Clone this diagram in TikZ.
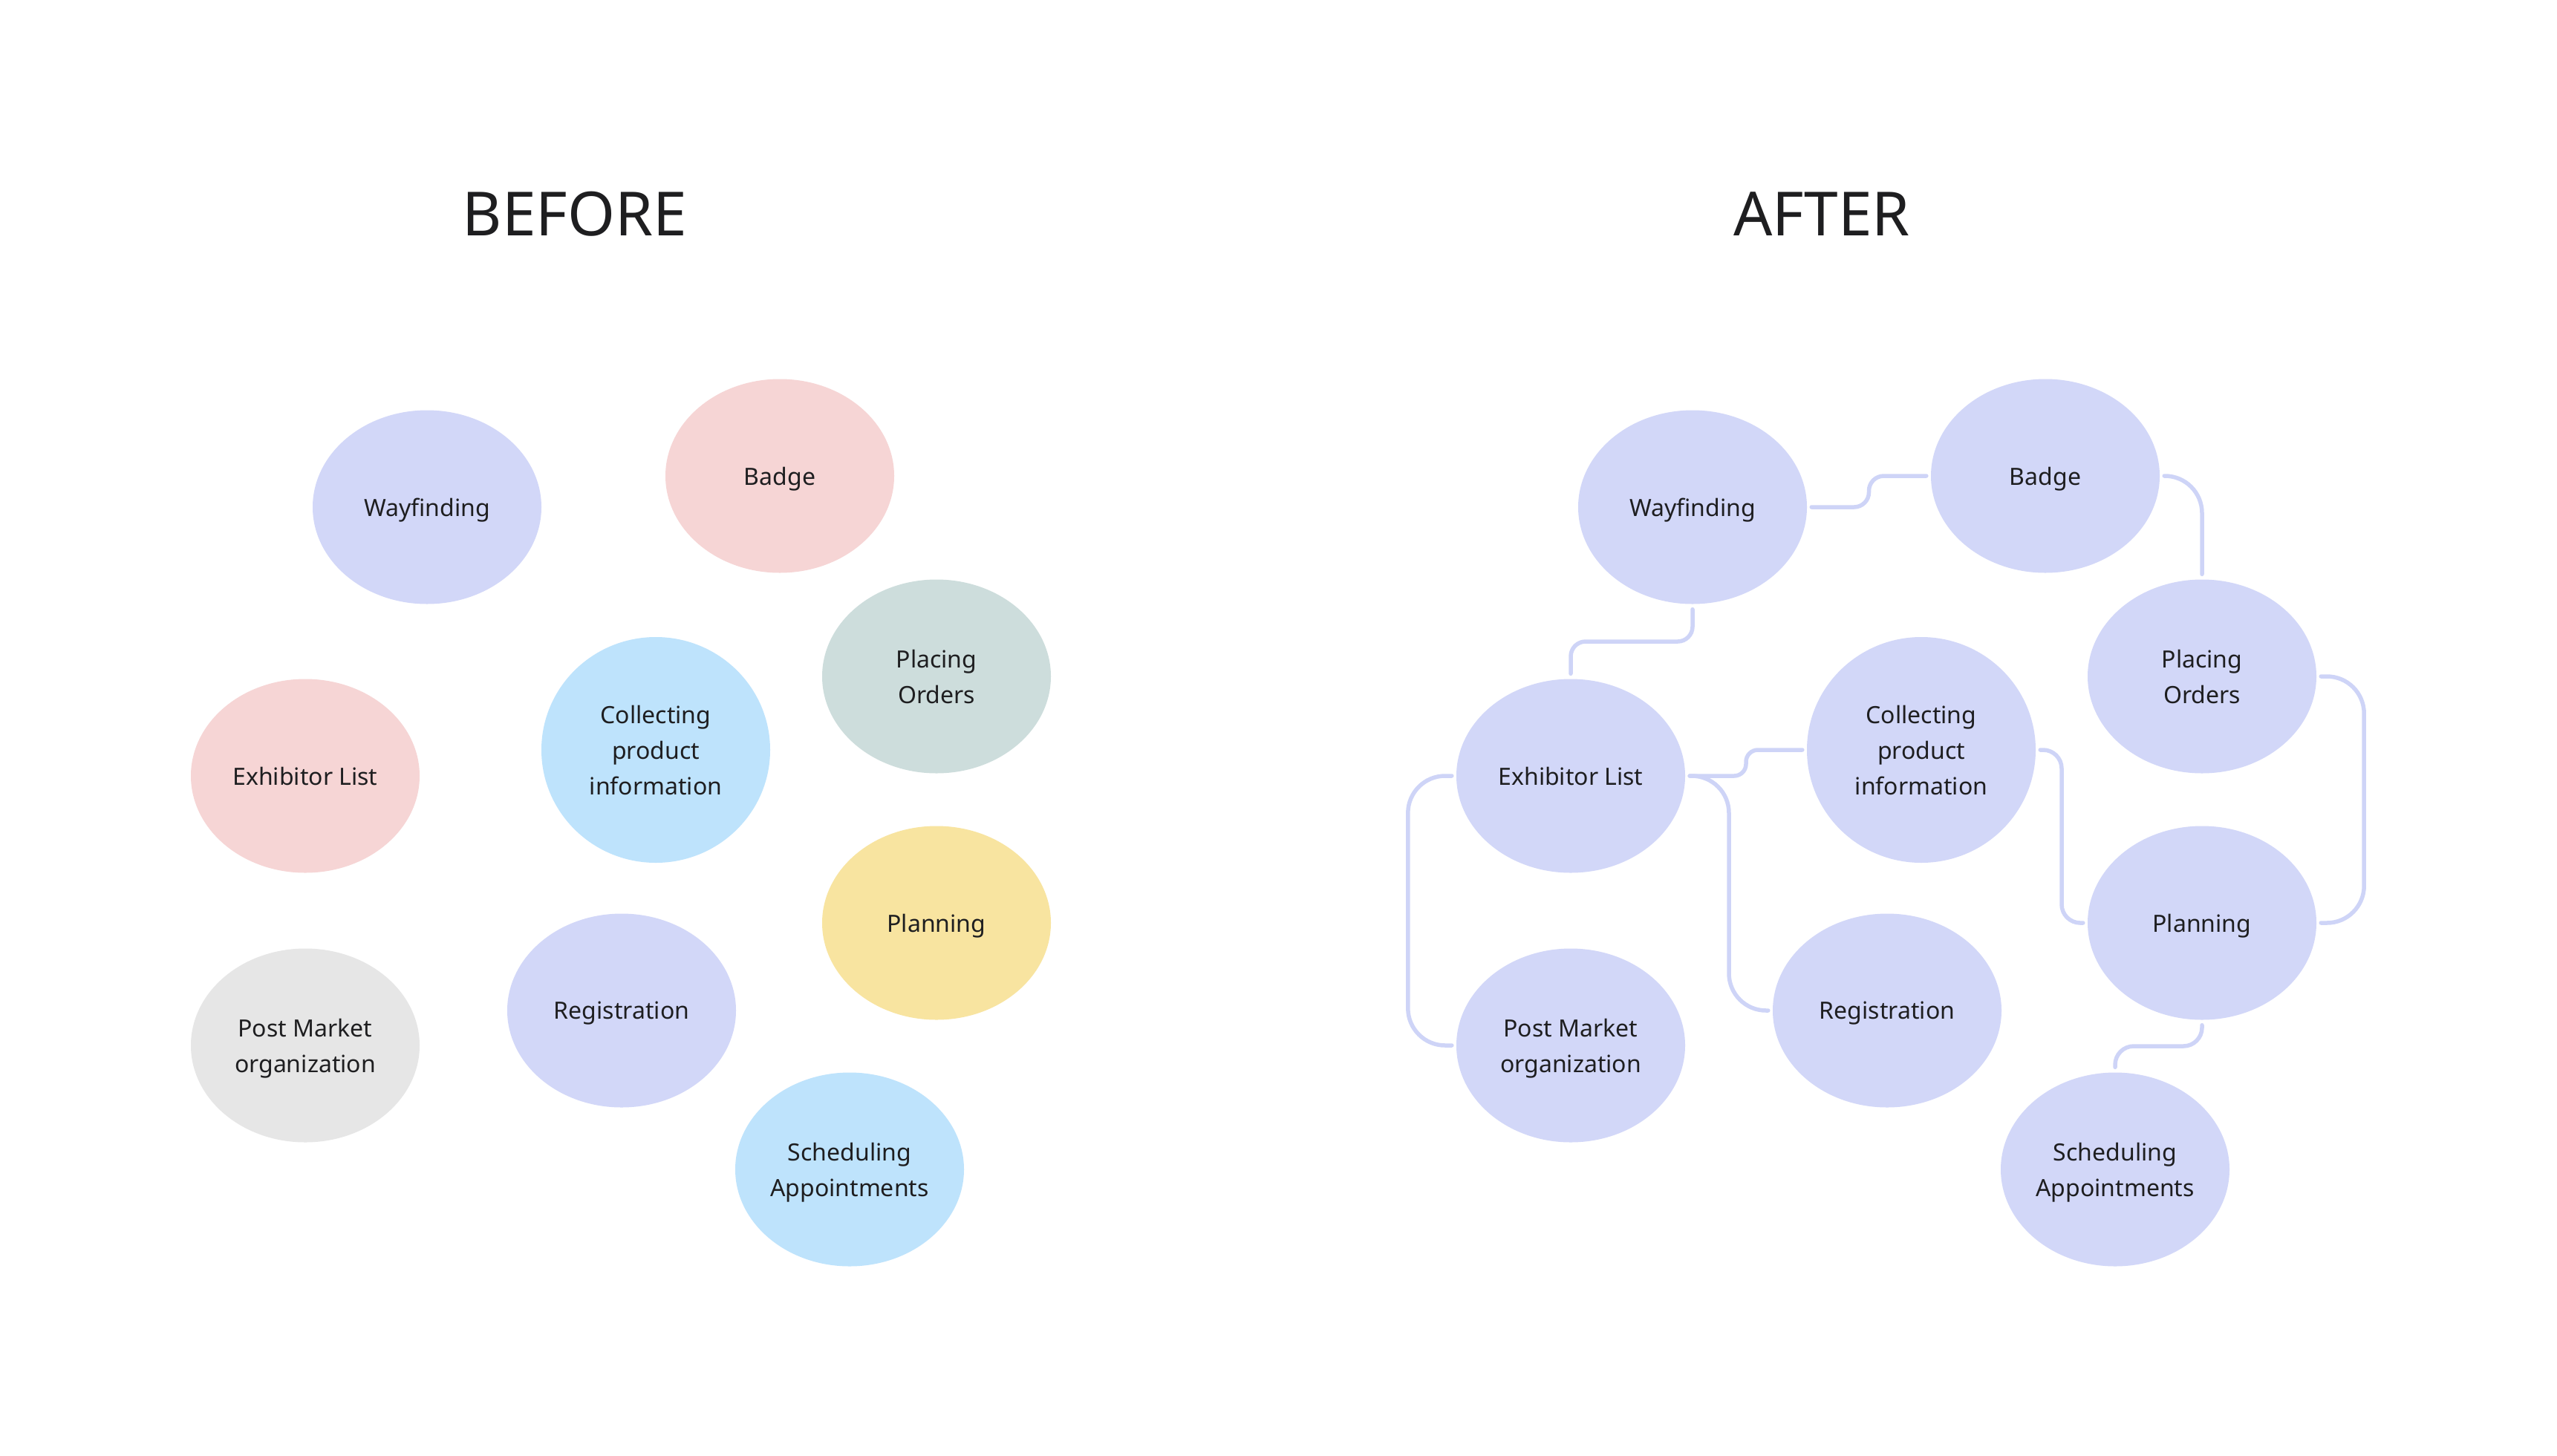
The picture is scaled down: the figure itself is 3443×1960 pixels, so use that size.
\documentclass[tikz,border=0pt]{standalone}
\usepackage{fontspec}
\setmainfont{Noto Sans}
\usetikzlibrary{shapes.geometric,calc}
\definecolor{lav}{RGB}{210,215,248}
\definecolor{pinkc}{RGB}{246,213,213}
\definecolor{bluec}{RGB}{190,227,252}
\definecolor{sagec}{RGB}{205,221,220}
\definecolor{yelc}{RGB}{248,228,160}
\definecolor{greyc}{RGB}{230,230,230}
\definecolor{linec}{RGB}{206,212,247}
\definecolor{txt}{RGB}{30,30,32}
\tikzset{
  bub/.style={ellipse, minimum width=308pt, minimum height=261pt, inner sep=0pt,
    text depth=0pt, align=center, text=txt, font=\fontsize{32}{48}\selectfont, fill=#1},
  bub/.default=lav,
  tall/.style={minimum height=304pt},
  conn/.style={draw=linec, line width=5.5pt, line cap=round},
  ttl/.style={text=txt, font=\fontsize{82}{90}\selectfont, inner sep=0pt}
}
\begin{document}
\begin{tikzpicture}[x=1pt,y=-1pt]
\useasboundingbox[fill=white] (0,0) rectangle (3443,1960);
% titles
\node[ttl] (tb) at (774,288) {BEFORE};
\node[ttl] (ta) at (2453,288) {AFTER};
% BEFORE
\node[bub=lav]   (wfB) at (575,683) {Wayfinding};
\node[bub=pinkc] (bdB) at (1050,641) {Badge};
\node[bub=sagec] (poB) at (1261,911) {Placing\\Orders};
\node[bub=pinkc] (exB) at (411,1045) {Exhibitor List};
\node[bub=bluec, tall] (cpB) at (883,1010) {Collecting\\product\\information};
\node[bub=yelc]  (plB) at (1261,1243) {Planning};
\node[bub=greyc] (pmB) at (411,1408) {Post Market\\organization};
\node[bub=lav]   (rgB) at (837,1361) {Registration};
\node[bub=bluec] (scB) at (1144,1575) {Scheduling\\Appointments};
% AFTER
\node[bub] (wfA) at (2279,683) {Wayfinding};
\node[bub] (bdA) at (2754,641) {Badge};
\node[bub] (poA) at (2965,911) {Placing\\Orders};
\node[bub] (exA) at (2115,1045) {Exhibitor List};
\node[bub, tall] (cpA) at (2587,1010) {Collecting\\product\\information};
\node[bub] (plA) at (2965,1243) {Planning};
\node[bub] (pmA) at (2115,1408) {Post Market\\organization};
\node[bub] (rgA) at (2541,1361) {Registration};
\node[bub] (scA) at (2848,1575) {Scheduling\\Appointments};
% connectors
\coordinate (s1) at ([xshift=6pt]wfA.east);
\coordinate (e1) at ([xshift=-6pt]bdA.west);
\coordinate (m1) at ($(s1)!0.5!(e1)$);
\draw[conn, rounded corners=20pt] (s1) -| (m1 |- e1) -- (e1);
\coordinate (s2) at ([xshift=6pt]bdA.east);
\coordinate (e2) at ([yshift=7pt]poA.north);
\draw[conn, rounded corners=50pt] (s2) -| (e2);
\coordinate (s3) at ([yshift=-7pt]wfA.south);
\coordinate (e3) at ([yshift=7pt]exA.north);
\coordinate (m3) at ($(s3)!0.5!(e3)$);
\draw[conn, rounded corners=20pt] (s3) |- (e3 |- m3) -- (e3);
\coordinate (s4) at ([xshift=6pt]exA.east);
\coordinate (e4) at ([xshift=-6pt]cpA.west);
\coordinate (m4) at ($(s4)!0.5!(e4)$);
\draw[conn, rounded corners=16pt] (s4) -| (m4 |- e4) -- (e4);
\coordinate (e5) at ([xshift=-6pt]rgA.west);
\coordinate (m5) at ($(s4)!0.5!(e5)$);
\draw[conn, rounded corners=50pt] (s4) -| (m5 |- e5) -- (e5);
\coordinate (s6) at ([xshift=-6pt]exA.west);
\coordinate (e6) at ([xshift=-6pt]pmA.west);
\draw[conn, rounded corners=50pt] (s6) -- ++(-59,0) |- (e6);
\coordinate (s7) at ([xshift=6pt]cpA.east);
\coordinate (e7) at ([xshift=-6pt]plA.west);
\coordinate (m7) at ($(s7)!0.5!(e7)$);
\draw[conn, rounded corners=25pt] (s7) -| (m7 |- e7) -- (e7);
\coordinate (s8) at ([xshift=6pt]poA.east);
\coordinate (e8) at ([xshift=6pt]plA.east);
\draw[conn, rounded corners=50pt] (s8) -- ++(58,0) |- (e8);
\coordinate (s9) at ([yshift=-7pt]plA.south);
\coordinate (e9) at ([yshift=7pt]scA.north);
\coordinate (m9) at ($(s9)!0.5!(e9)$);
\draw[conn, rounded corners=25pt] (s9) |- (e9 |- m9) -- (e9);
\end{tikzpicture}
\end{document}
